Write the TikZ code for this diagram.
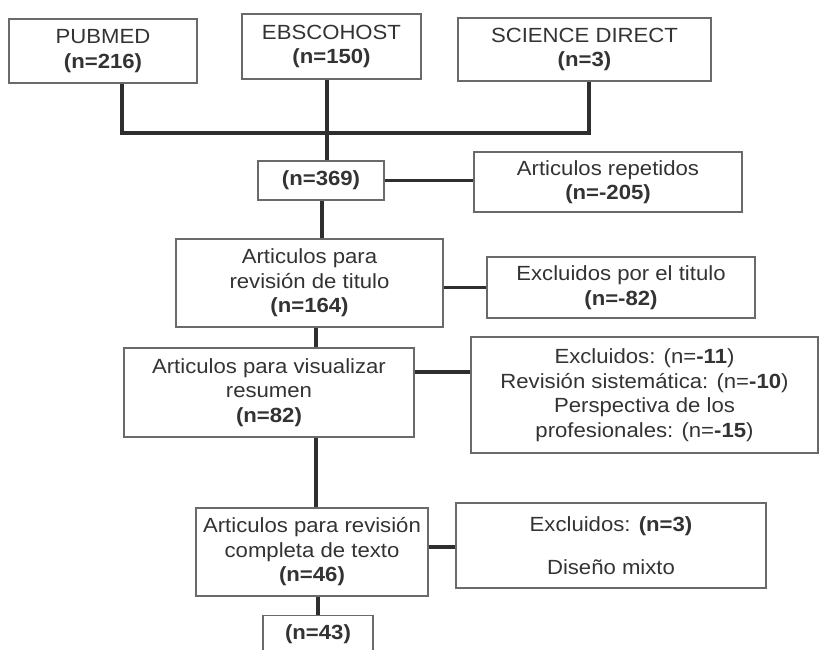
\documentclass[tikz,border=0pt]{standalone}
\usepackage{fontspec}
\setmainfont{Liberation Sans}[FakeStretch=1.08]
\definecolor{txt}{HTML}{333333}
\definecolor{brd}{HTML}{6A6A6A}
\definecolor{lnk}{HTML}{2E2E2E}
\begin{document}
\begin{tikzpicture}[x=1pt,y=-1pt,
  box/.style={draw=brd, line width=1.4pt, fill=white, rectangle, align=center,
    inner sep=0pt, text=txt, font=\fontsize{20.5}{24.5}\selectfont},
  conn/.style={draw=lnk, line width=3.2pt}]
\useasboundingbox (0,0) rectangle (835,650);
\clip (0,0) rectangle (835,650);
\fill[white] (0,0) rectangle (835,650);

\node[box, minimum width=188pt, minimum height=64pt] (pub) at (103,51) {PUBMED\\\textbf{(n=216)}};
\node[box, minimum width=179pt, minimum height=65pt] (ebs) at (331.5,46.5) {EBSCOHOST\\\textbf{(n=150)}};
\node[box, minimum width=253pt, minimum height=63pt] (sd) at (584.5,49.5) {SCIENCE DIRECT\\\textbf{(n=3)}};

\node[box, minimum width=126pt, minimum height=39pt] (n369) at (321,180.5) {\textbf{(n=369)}};
\node[box, minimum width=268pt, minimum height=60pt] (rep) at (608,182) {Articulos repetidos\\\textbf{(n=-205)}};

\node[box, minimum width=267pt, minimum height=88pt] (tit) at (309.5,283) {Articulos para\\revisión de titulo\\\textbf{(n=164)}};
\node[box, minimum width=268pt, minimum height=61pt] (extit) at (621,287.5) {Excluidos por el titulo\\\textbf{(n=-82)}};

\node[box, minimum width=290pt, minimum height=89pt] (res) at (269,392.5) {Articulos para visualizar\\resumen\\\textbf{(n=82)}};
\node[box, minimum width=347pt, minimum height=116pt] (exres) at (644.5,395) {Excluidos: (n=\textbf{-11})\\Revisión sistemática: (n=\textbf{-10})\\Perspectiva de los\\profesionales: (n=\textbf{-15})};

\node[box, minimum width=232pt, minimum height=88pt] (comp) at (312,552) {Articulos para revisión\\completa de texto\\\textbf{(n=46)}};
\node[box, minimum width=310pt, minimum height=85pt] (excomp) at (611,545.5) {Excluidos: \textbf{(n=3)}\\[18pt]Diseño mixto};

\node[box, minimum width=110pt, minimum height=60pt, anchor=north] (n43) at (318,615) {};
\node[text=txt, font=\fontsize{20.5}{24.5}\selectfont] (n43t) at (318,634) {\textbf{(n=43)}};

% bus
\coordinate (busL) at (122,133);
\coordinate (busM) at (327,133);
\coordinate (busR) at (589,133);
\draw[conn] (busL |- pub.south) -- (busL) -- (busR) -- (busR |- sd.south);
\draw[conn] (busM |- ebs.south) -- (busM) -- (busM |- n369.north);

% side links
\draw[conn] (n369.east) -- (n369.east -| rep.west);
\draw[conn] (tit.east |- extit.west) -- (extit.west);
\draw[conn] (res.east |- 0,372) -- (exres.west |- 0,372);
\draw[conn] (comp.east |- 0,547) -- (excomp.west |- 0,547);

% trunk
\coordinate (tr1) at (322,0);
\coordinate (tr2) at (316,0);
\coordinate (tr3) at (318,0);
\draw[conn] (tr1 |- n369.south) -- (tr1 |- tit.north);
\draw[conn] (tr2 |- tit.south) -- (tr2 |- res.north);
\draw[conn] (tr2 |- res.south) -- (tr2 |- comp.north);
\draw[conn] (tr3 |- comp.south) -- (tr3 |- n43.north);
\end{tikzpicture}
\end{document}
